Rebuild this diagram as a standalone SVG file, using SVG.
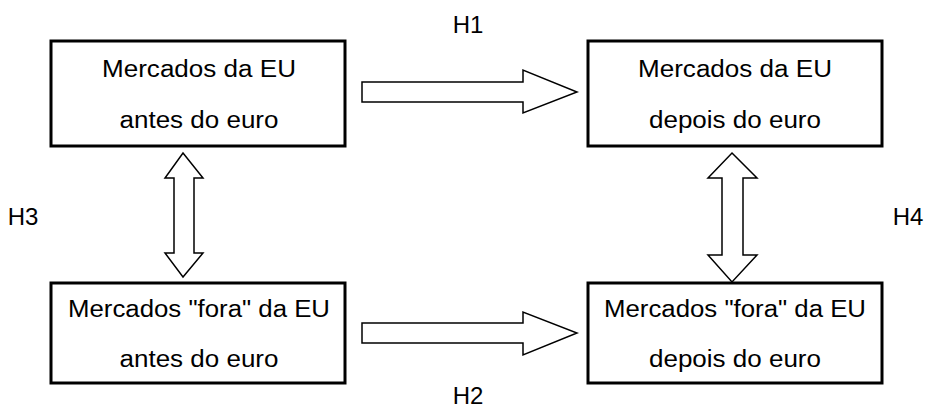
<svg xmlns="http://www.w3.org/2000/svg" width="926" height="410" viewBox="0 0 926 410">
<style>
.box{fill:#fff;stroke:#000;stroke-width:3}
.arr{fill:#fff;stroke:#000;stroke-width:1.5;stroke-linejoin:miter}
text{font-family:"Liberation Sans",Arial,sans-serif;fill:#000}
.t{font-size:23px;text-anchor:middle}
.h{font-size:24px;text-anchor:middle}
</style>
<rect width="926" height="410" fill="#fff"/>
<g id="connectors">
<polygon class="arr" points="362,82 523,82 523,70 577,92 523,113 523,102 362,102"/>
<polygon class="arr" points="362,323 523,323 523,312 577,333 523,355 523,343 362,343"/>
<polygon class="arr" points="183,153 203,178 194,178 194,253 203,253 183,277 165,253 174,253 174,178 165,178"/>
<polygon class="arr" points="732,153 757,178 743,178 743,255 757,255 732,282 708,255 722,255 722,178 708,178"/>
</g>
<g id="n1">
<rect class="box" x="51" y="41" width="294" height="105"/>
<text class="t" x="199" y="77" textLength="194" lengthAdjust="spacingAndGlyphs">Mercados da EU</text>
<text class="t" x="199" y="128" textLength="159" lengthAdjust="spacingAndGlyphs">antes do euro</text>
</g>
<g id="n2">
<rect class="box" x="588" y="41" width="294" height="105"/>
<text class="t" x="735" y="77" textLength="194" lengthAdjust="spacingAndGlyphs">Mercados da EU</text>
<text class="t" x="735" y="128" textLength="172" lengthAdjust="spacingAndGlyphs">depois do euro</text>
</g>
<g id="n3">
<rect class="box" x="51" y="283" width="294" height="100"/>
<text class="t" x="199" y="317" textLength="262" lengthAdjust="spacingAndGlyphs">Mercados "fora" da EU</text>
<text class="t" x="199" y="367" textLength="159" lengthAdjust="spacingAndGlyphs">antes do euro</text>
</g>
<g id="n4">
<rect class="box" x="588" y="283" width="294" height="100"/>
<text class="t" x="735" y="317" textLength="262" lengthAdjust="spacingAndGlyphs">Mercados "fora" da EU</text>
<text class="t" x="735" y="367" textLength="172" lengthAdjust="spacingAndGlyphs">depois do euro</text>
</g>
<g id="labels">
<text class="h" x="468" y="33">H1</text>
<text class="h" x="468" y="404">H2</text>
<text class="h" x="23" y="225">H3</text>
<text class="h" x="908" y="225">H4</text>
</g>
</svg>
